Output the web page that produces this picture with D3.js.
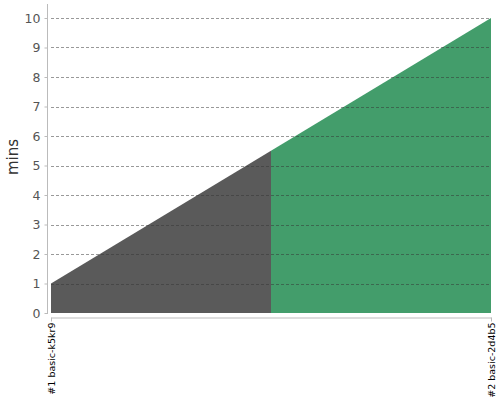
<!DOCTYPE html>
<html><head><meta charset="utf-8">
<script src="https://cdn.jsdelivr.net/npm/d3@7"></script>
<style>body{margin:0;background:#fff;} svg{display:block;font-family:"DejaVu Sans",sans-serif;}</style>
</head><body>
<svg id="c" width="500" height="400"></svg>
<script>
const builds = ["#1 basic-k5kr9", "#2 basic-2d4b5"];
const durations = [1, 10];
const colors = ["#5a5a5a", "#439d6b"];
const yTicks = [0,1,2,3,4,5,6,7,8,9,10];

const svg = d3.select("#c");
const x0 = 51, x1 = 491, yb = 313, yt = 18;
const xi = d3.scaleLinear().domain([0, builds.length - 1]).range([x0, x1]);
const y = d3.scaleLinear().domain([0, 10]).range([yb, yt]);
const valAt = t => {
  const i = Math.min(Math.floor(t), durations.length - 2);
  const f = t - i;
  return durations[i] + (durations[i+1] - durations[i]) * f;
};
const area = d3.area().x(d => xi(d.t)).y0(y(0)).y1(d => y(d.v));
builds.forEach((b, i) => {
  const t0 = Math.max(0, i - 0.5), t1 = Math.min(builds.length - 1, i + 0.5);
  const pts = [t0, i, t1].filter((t, k, a) => a.indexOf(t) === k).map(t => ({t, v: valAt(t)}));
  svg.append("path").attr("d", area(pts)).attr("fill", colors[i]);
});

// grid lines
svg.append("g").selectAll("line").data(yTicks.filter(d => d > 0)).join("line")
  .attr("x1", x0).attr("x2", x1).attr("y1", d => Math.round(y(d)) + 0.5).attr("y2", d => Math.round(y(d)) + 0.5)
  .attr("stroke", "#333").attr("stroke-opacity", 0.5).attr("stroke-dasharray", "3,2");

// y axis
const ya = svg.append("g").attr("transform", "translate(47.5,0)")
  .call(d3.axisLeft(y).tickValues(yTicks).tickSize(3).tickPadding(4));
ya.select(".domain").remove();
ya.append("line").attr("x1", 0).attr("x2", 0).attr("y1", 4).attr("y2", 314).attr("stroke", "#bbb");
ya.selectAll(".tick line").attr("stroke", "#bbb");
ya.selectAll(".tick text").attr("fill", "#555").attr("font-size", 12.5).attr("font-family", "DejaVu Sans");

// x axis
const xs = d3.scalePoint().domain(builds).range([x0, x1]);
const xa = svg.append("g").attr("transform", "translate(0,317.5)")
  .call(d3.axisBottom(xs).tickSize(4).tickSizeOuter(0));
xa.select(".domain").attr("stroke", "#bbb");
xa.selectAll(".tick line").attr("stroke", "#bbb");
xa.selectAll(".tick text").attr("fill", "#000").attr("font-size", 9.5).attr("font-family", "DejaVu Sans")
  .attr("transform", "rotate(-90)").attr("text-anchor", "end").attr("x", -5).attr("y", 0).attr("dy", "0.35em");

svg.append("text").attr("transform", "translate(18,157) rotate(-90)").attr("text-anchor", "middle")
  .attr("font-size", 15).attr("fill", "#333").text("mins");
</script>
</body></html>
